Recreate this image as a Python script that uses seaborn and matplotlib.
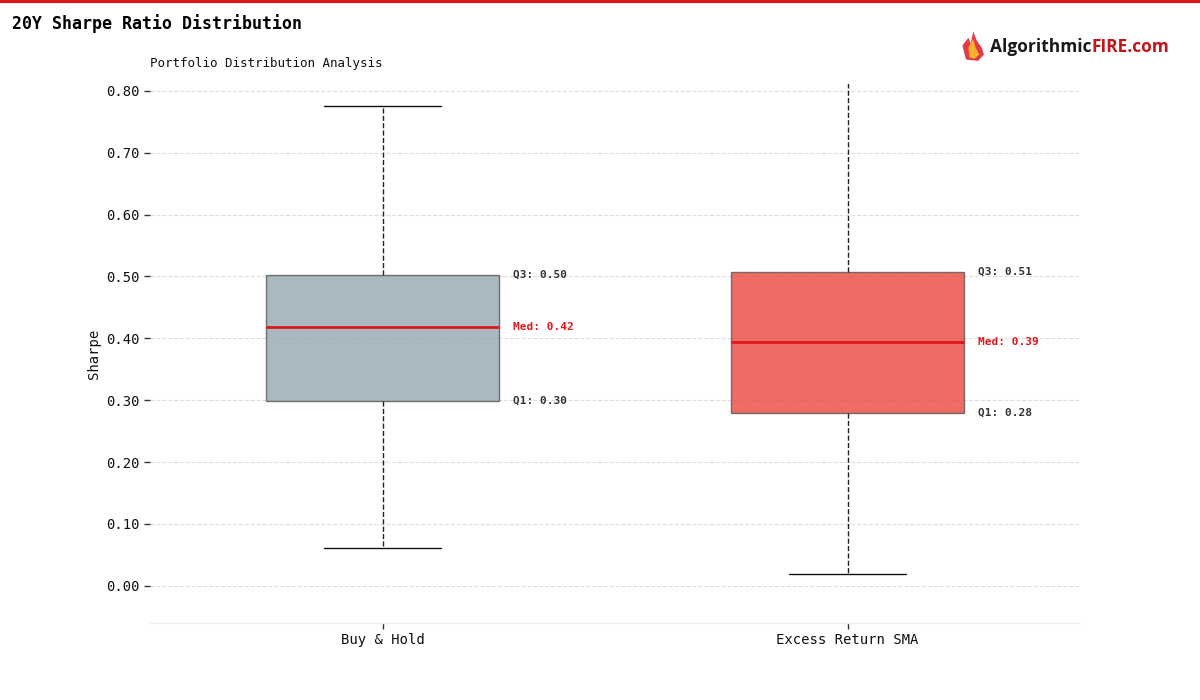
import numpy as np
import matplotlib
matplotlib.use("Agg")
import matplotlib.pyplot as plt
import seaborn as sns
from matplotlib.patches import Polygon

# values
strategies = ["Buy & Hold", "Excess Return SMA"]
whisker_low = [0.061, 0.019]
q1_vals = [0.299, 0.280]
medians = [0.419, 0.394]
q3_vals = [0.503, 0.507]
whisker_high = [0.776, 0.86]
box_colors = ["#95a7b0", "#e9493f"]

sns.set_theme(style="whitegrid")
plt.rcParams["font.family"] = ["DejaVu Sans Mono"]

fig = plt.figure(figsize=(12, 7), dpi=100)
ax = fig.add_axes([0.125, 0.11, 0.775, 0.77])

stats = []
for i, name in enumerate(strategies):
    stats.append({"label": name, "whislo": whisker_low[i], "q1": q1_vals[i],
                  "med": medians[i], "q3": q3_vals[i], "whishi": whisker_high[i],
                  "fliers": []})

bp = ax.bxp(stats, positions=range(len(strategies)), widths=0.5, patch_artist=True,
            showfliers=False,
            boxprops=dict(edgecolor="#555555", linewidth=1),
            medianprops=dict(color="#e0161b", linewidth=2),
            whiskerprops=dict(color="#222222", linewidth=1, linestyle="--"),
            capprops=dict(color="#111111", linewidth=1), capwidths=0.25)
for patch, c in zip(bp["boxes"], box_colors):
    patch.set_facecolor(c)
    patch.set_alpha(0.8)
    patch.set_edgecolor("#555555")

# quartile labels
for i in range(len(strategies)):
    x = i + 0.25 + 0.03
    ax.text(x, q3_vals[i], f"Q3: {q3_vals[i]:.2f}", fontsize=8, fontweight="bold",
            color="#333333", ha="left", va="center")
    ax.text(x, medians[i], f"Med: {medians[i]:.2f}", fontsize=8, fontweight="bold",
            color="#e0161b", ha="left", va="center")
    ax.text(x, q1_vals[i], f"Q1: {q1_vals[i]:.2f}", fontsize=8, fontweight="bold",
            color="#333333", ha="left", va="center")

ax.set_xlim(-0.5, 1.5)
ax.set_ylim(-0.06, 0.811)
ax.set_yticks(np.arange(0, 0.81, 0.1))
ax.set_yticklabels([f"{v:.2f}" for v in np.arange(0, 0.81, 0.1)])
ax.set_ylabel("Sharpe", fontsize=10, color="#111111")
ax.tick_params(axis="both", labelsize=10, length=4, width=1,
               left=True, bottom=True, labelcolor="#111111", color="#333333")
ax.grid(axis="y", linestyle="--", color="#dddddd", linewidth=0.8)
ax.grid(axis="x", visible=False)
ax.set_facecolor("white")
for s in ["top", "right", "left"]:
    ax.spines[s].set_visible(False)
ax.spines["bottom"].set_color("#eeeeee")
ax.spines["bottom"].set_linewidth(1)

ax.set_title("Portfolio Distribution Analysis", loc="left", fontsize=9, pad=12,
             color="#111111")

# header
fig.add_artist(plt.Line2D([0, 1], [0.998, 0.998], transform=fig.transFigure,
                          color="#e0161b", linewidth=3))
fig.text(0.01, 0.967, "20Y Sharpe Ratio Distribution", fontsize=12,
         fontweight="bold", ha="left", va="center", color="#000000")

# logo
logo_font = ["Open Sans", "DejaVu Sans"]
t = fig.text(0.825, 0.933, "Algorithmic", fontsize=12.5, family=logo_font,
             fontweight="bold", ha="left", va="center", color="#1a1a1a")
fig.canvas.draw()
bb = t.get_window_extent().transformed(fig.transFigure.inverted())
fig.text(bb.x1, 0.933, "FIRE.com", fontsize=12.5, family=logo_font,
         fontweight="bold", ha="left", va="center", color="#c0161b")
flame_outer = [(0.805, 0.915), (0.802, 0.935), (0.807, 0.946), (0.809, 0.938),
               (0.811, 0.955), (0.814, 0.942), (0.818, 0.932), (0.820, 0.922),
               (0.815, 0.913)]
flame_inner = [(0.808, 0.918), (0.807, 0.932), (0.811, 0.944), (0.813, 0.932),
               (0.816, 0.922), (0.812, 0.916)]
fig.add_artist(Polygon(flame_outer, closed=True, transform=fig.transFigure,
                       facecolor="#e23a4a", edgecolor="none"))
fig.add_artist(Polygon(flame_inner, closed=True, transform=fig.transFigure,
                       facecolor="#f7b12a", edgecolor="none"))

fig.savefig("out.png", dpi=100, facecolor="white")
